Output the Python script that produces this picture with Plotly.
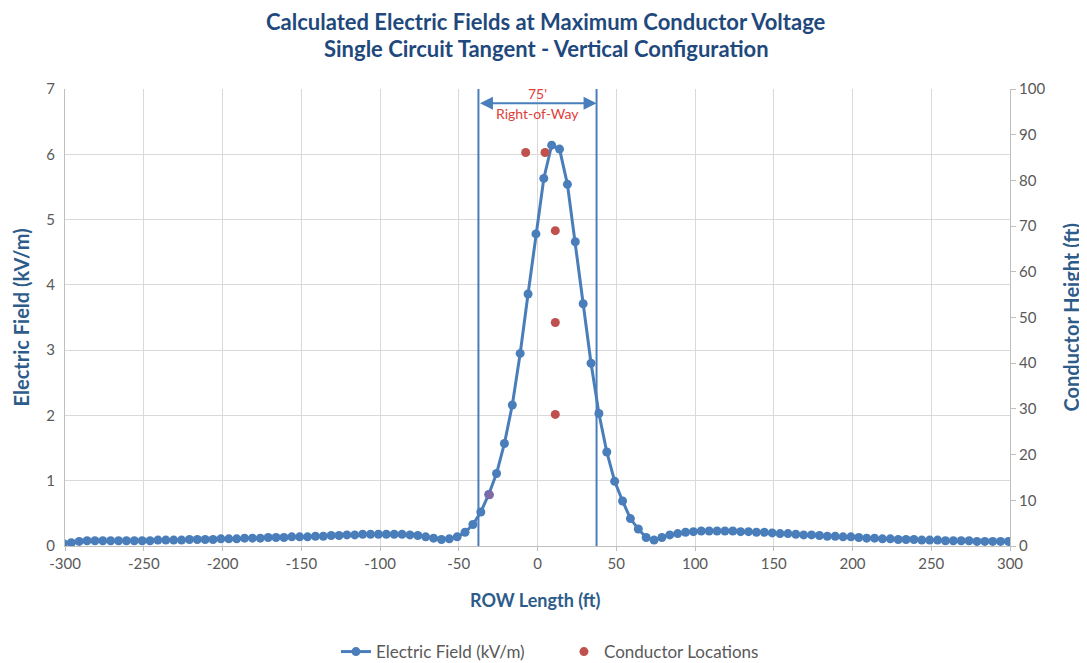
import plotly.graph_objects as go

# ---- Data ----
row_length_ft = list(range(-301, 300, 5))  # 121 points

efield_left = [0.04, 0.05, 0.07, 0.08, 0.08, 0.08, 0.08, 0.08, 0.08, 0.08,
               0.08, 0.08, 0.09, 0.09, 0.09, 0.09, 0.10, 0.10, 0.10, 0.10,
               0.11, 0.11, 0.11, 0.12, 0.12, 0.12, 0.13, 0.13, 0.13, 0.14,
               0.14, 0.14, 0.15, 0.15, 0.16, 0.16, 0.17, 0.17, 0.18, 0.18,
               0.18, 0.18, 0.18, 0.18, 0.17, 0.16, 0.14, 0.12, 0.10, 0.11,
               0.14, 0.21, 0.33]
efield_center = [0.52, 0.79, 1.11, 1.57, 2.16, 2.95, 3.86, 4.78, 5.63, 6.14,
                 6.08, 5.54, 4.66, 3.71, 2.80, 2.03, 1.44, 0.99, 0.69, 0.42,
                 0.26, 0.13, 0.09]
efield_right = [0.13, 0.17, 0.19, 0.21, 0.22, 0.23, 0.23, 0.23, 0.23, 0.23,
                0.22, 0.22, 0.21, 0.21, 0.20, 0.19, 0.19, 0.18, 0.17, 0.17,
                0.16, 0.15, 0.15, 0.14, 0.14, 0.13, 0.12, 0.12, 0.11, 0.11,
                0.10, 0.10, 0.10, 0.09, 0.09, 0.09, 0.08, 0.08, 0.08, 0.08,
                0.07, 0.07, 0.07, 0.07, 0.07]
electric_field = efield_left + efield_center + efield_right

conductor_x = [-7.5, 4.8, 11.3, 11.3, 11.3]
conductor_height = [86.1, 86.1, 69.0, 48.9, 28.8]
low_point_x = [-30.5]
low_point_height = [11.2]

row_edges = [-37.5, 37.5]
row_label_top = "75'"
row_label_bottom = "Right-of-Way"

title_lines = ["Calculated Electric Fields at Maximum Conductor Voltage",
               "Single Circuit Tangent - Vertical Configuration"]

x_ticks = list(range(-300, 301, 50))
x_tick_text = [str(v) for v in x_ticks]
y_ticks = list(range(0, 8))
y2_ticks = list(range(0, 101, 10))

BLUE = "#4a7ebb"
RED = "#c0504d"
TITLE_C = "#1f497d"
AXT_C = "#2e5c8a"
TICK_C = "#595959"
GRID_C = "#d9d9d9"
FONT = "Lato"

fig = go.Figure()

fig.add_trace(go.Scatter(
    x=row_length_ft, y=electric_field, mode="lines+markers",
    name="Electric Field (kV/m)",
    line=dict(color=BLUE, width=3),
    marker=dict(color=BLUE, size=9),
))
fig.add_trace(go.Scatter(
    x=low_point_x, y=low_point_height, mode="markers", yaxis="y2",
    showlegend=False, marker=dict(color="#7d6aa6", size=9),
))
fig.add_trace(go.Scatter(
    x=conductor_x, y=conductor_height, mode="markers", yaxis="y2",
    name="Conductor Locations",
    marker=dict(color=RED, size=9),
))

for xe in row_edges:
    fig.add_shape(type="line", x0=xe, x1=xe, y0=0, y1=7, xref="x", yref="y",
                  line=dict(color=BLUE, width=2))

fig.add_annotation(x=row_edges[1], y=6.78, ax=row_edges[0], ay=6.78,
                   xref="x", yref="y", axref="x", ayref="y", text="",
                   showarrow=True, arrowhead=2, startarrowhead=2,
                   arrowside="end+start", arrowsize=1.3, arrowwidth=2,
                   arrowcolor=BLUE, startarrowsize=1.3)
fig.add_annotation(x=0, y=6.93, xref="x", yref="y", text=row_label_top,
                   showarrow=False, font=dict(family=FONT, size=14, color="#e0403a"))
fig.add_annotation(x=0, y=6.63, xref="x", yref="y", text=row_label_bottom,
                   showarrow=False, font=dict(family=FONT, size=14, color="#e0403a"))

# Titles as annotations for exact placement
fig.add_annotation(x=0.509, y=1.148, xref="paper", yref="paper", text=title_lines[0],
                   showarrow=False, xanchor="center", yanchor="middle",
                   font=dict(family=FONT, size=22, color=TITLE_C, weight="bold"))
fig.add_annotation(x=0.509, y=1.0877, xref="paper", yref="paper", text=title_lines[1],
                   showarrow=False, xanchor="center", yanchor="middle",
                   font=dict(family=FONT, size=22, color=TITLE_C, weight="bold"))
fig.add_annotation(x=-0.0466, y=0.5, xref="paper", yref="paper",
                   text="Electric Field (kV/m)", textangle=-90, showarrow=False,
                   xanchor="center", yanchor="middle",
                   font=dict(family=FONT, size=20, color=AXT_C, weight="bold"))
fig.add_annotation(x=1.0635, y=0.5, xref="paper", yref="paper",
                   text="Conductor Height (ft)", textangle=-90, showarrow=False,
                   xanchor="center", yanchor="middle",
                   font=dict(family=FONT, size=20, color=AXT_C, weight="bold"))
fig.add_annotation(x=0.498, y=-0.118, xref="paper", yref="paper",
                   text="ROW Length (ft)", showarrow=False,
                   xanchor="center", yanchor="middle",
                   font=dict(family=FONT, size=18, color=AXT_C, weight="bold"))

# The page body has an 8px margin, so the figure is sized/offset to compensate.
fig.update_layout(
    width=1079, height=655,
    paper_bgcolor="white", plot_bgcolor="white",
    margin=dict(l=57, r=77, t=81, b=117, autoexpand=False),
    font=dict(family=FONT, size=15, color=TICK_C),
    xaxis=dict(
        range=[-300, 300], tickvals=x_ticks, ticktext=x_tick_text,
        showgrid=True, gridcolor=GRID_C, automargin=False,
        gridwidth=1, zeroline=False, showline=True, linecolor="#bfbfbf",
        ticks="outside", ticklen=4, tickcolor="#bfbfbf",
        tickfont=dict(family=FONT, size=15, color=TICK_C),
    ),
    yaxis=dict(
        range=[0, 7], tickvals=y_ticks, showgrid=True, gridcolor=GRID_C,
        zeroline=False, showline=True, linecolor="#bfbfbf", automargin=False,
        ticklabelstandoff=6,
        tickfont=dict(family=FONT, size=15, color=TICK_C),
    ),
    yaxis2=dict(
        range=[0, 100], tickvals=y2_ticks, overlaying="y", side="right",
        showgrid=False, zeroline=False, showline=True, linecolor="#bfbfbf",
        ticks="outside", ticklen=5, tickcolor="#bfbfbf", automargin=False,
        tickfont=dict(family=FONT, size=15, color=TICK_C),
    ),
    legend=dict(orientation="h", x=0.528, xanchor="center", y=-0.232, yanchor="middle",
                entrywidth=183, entrywidthmode="pixels",
                font=dict(family=FONT, size=17, color=TICK_C)),
    showlegend=True,
)

fig.write_html("out.html")
